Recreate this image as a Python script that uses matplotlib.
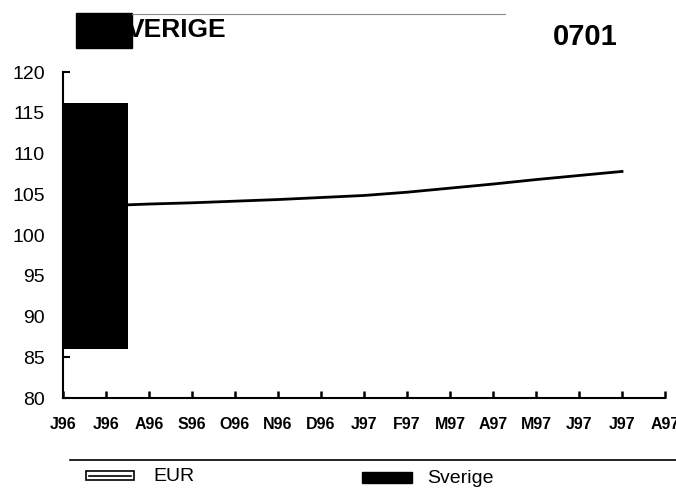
import matplotlib
matplotlib.use('Agg')
import matplotlib.pyplot as plt
from matplotlib.patches import Rectangle
from matplotlib.lines import Line2D

plt.rcParams['font.family'] = ['Liberation Sans', 'DejaVu Sans']

# month labels along the x axis (one per tick, 0..14)
months = ['J96', 'J96', 'A96', 'S96', 'O96', 'N96', 'D96', 'J97',
          'F97', 'M97', 'A97', 'M97', 'J97', 'J97', 'A97']

# EUR index line
eur_x = [1.5, 2, 3, 4, 5, 6, 7, 8, 9, 10, 11, 12, 13]
eur_y = [103.7, 103.8, 103.95, 104.15, 104.35, 104.6, 104.85,
         105.25, 105.75, 106.25, 106.8, 107.3, 107.8]

# Sverige block (range bar)
sverige_x = [0, 1.5]
sverige_lo = 86
sverige_hi = 116.2

fig = plt.figure(figsize=(6.76, 4.9), dpi=100)
ax = fig.add_axes([63/676, 1 - 398/490, 602/676, 326/490])

ax.bar(sverige_x[0], sverige_hi - sverige_lo, width=sverige_x[1] - sverige_x[0],
       bottom=sverige_lo, align='edge', color='black', zorder=3)
ax.plot(eur_x, eur_y, color='black', lw=2, zorder=4)

ax.set_xlim(0, 14)
ax.set_ylim(80, 120)
ax.set_xticks(range(len(months)))
ax.set_xticklabels(months, fontsize=11.5, fontweight='bold')
ax.set_yticks(range(80, 121, 5))
ax.tick_params(axis='y', direction='in', length=5, width=1.5, pad=13, labelsize=14)
ax.tick_params(axis='x', direction='in', length=5, width=1.8, pad=14)
for side in ('top', 'right'):
    ax.spines[side].set_visible(False)
for side in ('left', 'bottom'):
    ax.spines[side].set_linewidth(1.5)

# header: blacked-out box, title and sheet number
fig.add_artist(Line2D([132/676, 505/676], [1 - 14/490, 1 - 14/490],
                      color='#888888', lw=0.8))
fig.add_artist(Rectangle((76/676, 1 - 48/490), 56/676, 35/490,
                         transform=fig.transFigure, color='black'))
fig.text(127/676, 1 - 30/490, 'VERIGE', fontsize=19, fontweight='bold',
         va='center', ha='left')
fig.text(553/676, 1 - 37/490, '0701', fontsize=21, fontweight='bold',
         va='center', ha='left')

# legend at the bottom
fig.add_artist(Line2D([70/676, 1.0], [1 - 460/490, 1 - 460/490], color='black', lw=1.2))
fig.add_artist(Rectangle((86/676, 1 - 480/490), 48/676, 9/490,
                         transform=fig.transFigure, facecolor='white',
                         edgecolor='black', lw=1.2))
fig.add_artist(Line2D([89/676, 131/676], [1 - 475.5/490, 1 - 475.5/490],
                      color='black', lw=1.2))
fig.text(153/676, 1 - 476/490, 'EUR', fontsize=14, va='center', ha='left')
fig.add_artist(Rectangle((362/676, 1 - 483/490), 50/676, 11/490,
                         transform=fig.transFigure, color='black'))
fig.text(427/676, 1 - 478/490, 'Sverige', fontsize=14, va='center', ha='left')

fig.savefig('out.png', dpi=100)
